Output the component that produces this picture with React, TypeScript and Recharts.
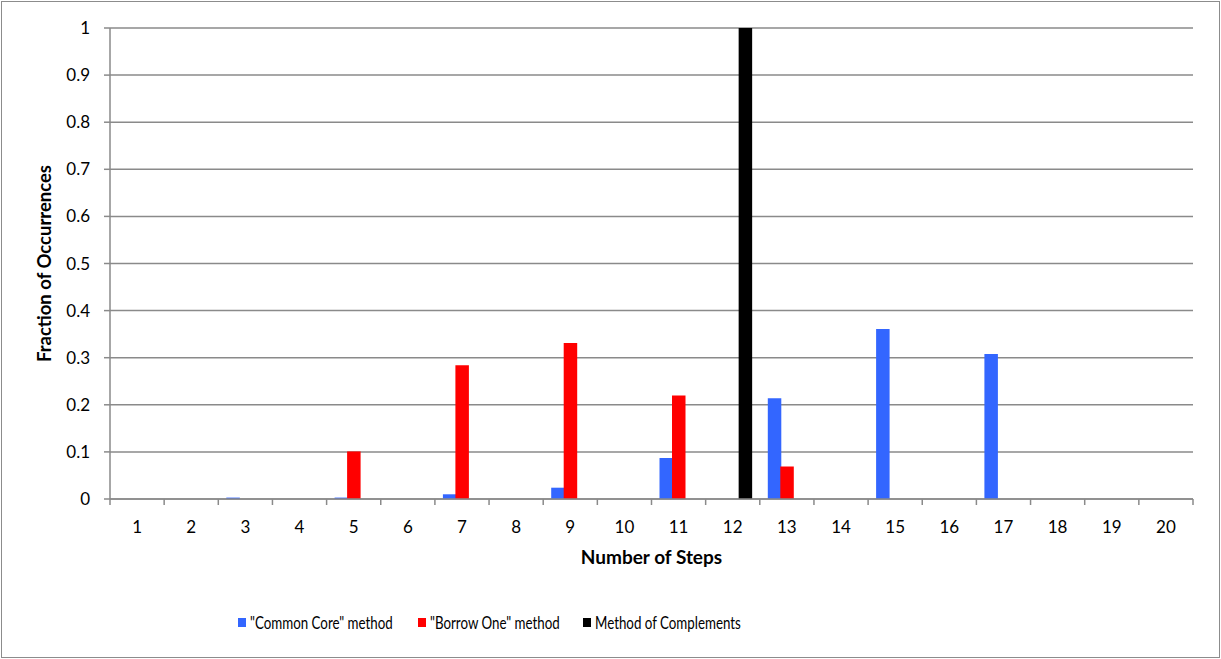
import React from 'react';
import { BarChart, Bar, XAxis, YAxis, CartesianGrid, Legend } from 'recharts';

const categories = ['1','2','3','4','5','6','7','8','9','10','11','12','13','14','15','16','17','18','19','20'];
const commonCore = [0,0,0.003,0,0.003,0,0.01,0,0.024,0,0.087,0,0.214,0,0.361,0,0.308,0,0,0];
const borrowOne = [0,0,0,0,0.101,0,0.284,0,0.331,0,0.22,0,0.069,0,0,0,0,0,0,0];
const complements = [0,0,0,0,0,0,0,0,0,0,0,1,0,0,0,0,0,0,0,0];
const yTicks = [0,0.1,0.2,0.3,0.4,0.5,0.6,0.7,0.8,0.9,1];

const seriesNames = ['"Common Core" method', '"Borrow One" method', 'Method of Complements'];
const seriesColors = ['#3366FF', '#FF0000', '#000000'];

const data = categories.map((c, i) => ({
  step: c,
  cc: commonCore[i],
  bo: borrowOne[i],
  mc: complements[i],
}));

const FONT = 'Lato, "Open Sans", sans-serif';
const W = 1221;
const H = 659;
const M = { top: 28, right: 28, bottom: 22, left: 0 };
const Y_W = 110;
const PLOT_W = W - M.left - M.right - Y_W;
const BAND = PLOT_W / categories.length;
const AXIS_GREY = '#8a8a8a';
const LEGEND_ITEM_W = [180, 165, 170];

const XTick = (props: any) => {
  const { x, y, payload, index } = props;
  const half = BAND / 2;
  return (
    <g>
      <line x1={x - half} x2={x - half} y1={y - 8} y2={y - 2} stroke={AXIS_GREY} strokeWidth={1.5} />
      {index === categories.length - 1 && (
        <line x1={x + half} x2={x + half} y1={y - 8} y2={y - 2} stroke={AXIS_GREY} strokeWidth={1.5} />
      )}
      <text x={x} y={y + 26} textAnchor="middle" fontFamily={FONT} fontSize={17} fill="#000">
        {payload.value}
      </text>
    </g>
  );
};

const LegendContent = () => (
  <div style={{ display: 'flex', justifyContent: 'flex-start', fontFamily: FONT, fontSize: 18, color: '#000', height: 30, alignItems: 'center', paddingLeft: 238 }}>
    {seriesNames.map((n, i) => (
      <div key={n} style={{ display: 'flex', alignItems: 'center', width: LEGEND_ITEM_W[i], flexShrink: 0, whiteSpace: 'nowrap', overflow: 'visible' }}>
        <span style={{ display: 'inline-block', flexShrink: 0, width: 8, height: 9, background: seriesColors[i], marginRight: 4 }} />
        <span style={{ display: 'inline-block', flexShrink: 0, transform: 'scaleX(0.74)', transformOrigin: 'left center' }}>{n}</span>
      </div>
    ))}
  </div>
);

export default function App() {
  return (
    <div style={{ position: 'absolute', left: 0, top: 0, width: W, height: H, background: '#fff' }}>
      <div style={{ position: 'absolute', left: 1, top: 1, width: W - 2, height: H - 2, border: '1px solid #8c8c8c', boxSizing: 'border-box' }} />
      <BarChart width={W} height={H} data={data} margin={M} barSize={13.5} barGap={-1}>
        <CartesianGrid vertical={false} stroke={AXIS_GREY} strokeWidth={1.5} />
        <XAxis
          dataKey="step"
          height={108}
          axisLine={{ stroke: AXIS_GREY, strokeWidth: 1.5 }}
          tickLine={false}
          tick={<XTick />}
          interval={0}
          label={{ value: 'Number of Steps', position: 'insideTop', offset: 52, fontFamily: FONT, fontSize: 19, fontWeight: 'bold', fill: '#000' }}
        />
        <YAxis
          width={Y_W}
          domain={[0, 1]}
          ticks={yTicks}
          interval={0}
          axisLine={{ stroke: AXIS_GREY, strokeWidth: 1.5 }}
          tickLine={{ stroke: AXIS_GREY, strokeWidth: 1.5 }}
          tickSize={6}
          tickMargin={14}
          tick={{ fontFamily: FONT, fontSize: 17, fill: '#000' }}
          label={{ value: 'Fraction of Occurrences', angle: -90, position: 'insideLeft', offset: 44, fontFamily: FONT, fontSize: 18.5, fontWeight: 'bold', fill: '#000', style: { textAnchor: 'middle' } }}
        />
        <Legend verticalAlign="bottom" content={<LegendContent />} />
        <Bar dataKey="cc" name={seriesNames[0]} fill={seriesColors[0]} isAnimationActive={false} />
        <Bar dataKey="bo" name={seriesNames[1]} fill={seriesColors[1]} isAnimationActive={false} />
        <Bar dataKey="mc" name={seriesNames[2]} fill={seriesColors[2]} isAnimationActive={false} />
      </BarChart>
    </div>
  );
}
